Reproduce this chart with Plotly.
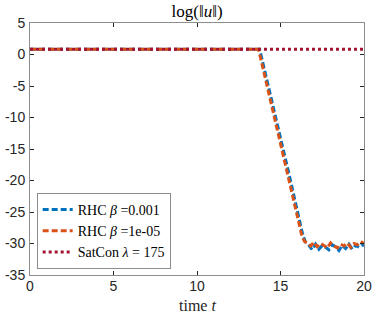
import plotly.graph_objects as go

# ---- data ----
t_blue = [0, 13.75, 13.95, 14.2, 14.35, 14.6, 14.85, 15.1, 15.35, 15.6, 15.85, 16.1, 16.35, 16.5,
          16.7, 16.9, 17.1, 17.3, 17.5, 17.7, 17.9, 18.1, 18.3, 18.5, 18.7, 18.9, 19.1, 19.3, 19.5, 19.7, 19.9, 20.0]
y_blue = [0.85, 0.85, -1.4, -4.2, -5.6, -8.6, -11.4, -14.0, -17.2, -20.0, -23.0, -26.0, -28.8, -29.8,
          -30.3, -31.0, -30.1, -30.9, -30.3, -30.6, -31.0, -30.2, -30.5, -31.1, -30.3, -30.8, -30.1, -30.9, -30.3, -30.6, -30.2, -30.4]

t_orange = [0, 13.68, 13.9, 14.1, 14.3, 14.55, 14.8, 15.05, 15.3, 15.55, 15.8, 16.05, 16.3, 16.45,
            16.6, 16.8, 17.0, 17.2, 17.4, 17.6, 17.8, 18.0, 18.2, 18.4, 18.6, 18.8, 19.0, 19.2, 19.4, 19.6, 19.8, 20.0]
y_orange = [0.85, 0.85, -1.6, -3.9, -6.3, -9.0, -11.9, -14.6, -17.6, -20.6, -23.6, -26.5, -29.0, -29.7,
            -29.9, -30.4, -29.8, -30.5, -30.0, -30.3, -30.7, -29.9, -30.4, -30.7, -30.1, -30.4, -29.9, -30.6, -30.0, -30.2, -29.7, -30.0]

t_sat = [0, 20]
y_sat = [0.85, 0.85]

names = ["RHC <i>β</i> =0.001", "RHC <i>β</i> =1e-05", "SatCon <i>λ</i> = 175"]
x_ticks = [0, 5, 10, 15, 20]
x_ticklabels = ["0", "5", "10", "15", "20"]
y_ticks = [5, 0, -5, -10, -15, -20, -25, -30, -35]
y_ticklabels = ["5", "0", "-5", "-10", "-15", "-20", "-25", "-30", "-35"]

serif = "Liberation Serif, Times New Roman, serif"
sans = "Liberation Sans, Arial, sans-serif"

fig = go.Figure()
fig.add_trace(go.Scatter(x=t_blue, y=y_blue, mode="lines", name=names[0],
                         line=dict(color="#0072BD", width=3, dash="6px,3px")))
fig.add_trace(go.Scatter(x=t_orange, y=y_orange, mode="lines", name=names[1],
                         line=dict(color="#D95319", width=3, dash="6px,3px")))
fig.add_trace(go.Scatter(x=t_sat, y=y_sat, mode="lines", name=names[2],
                         line=dict(color="#A2142F", width=3, dash="dot")))

axis_common = dict(showgrid=False, zeroline=False, showline=True, linecolor="#8c8c8c", linewidth=1,
                   mirror="ticks", ticks="inside", ticklen=4, tickcolor="#262626", automargin=False,
                   tickfont=dict(family=sans, size=14, color="#262626"))

fig.update_layout(
    width=374, height=318,
    margin=dict(l=30, r=10, t=23, b=43, autoexpand=False),
    paper_bgcolor="white", plot_bgcolor="white",
    title=dict(text="log(‖<i>u</i>‖)", x=0.527, xanchor="center", y=0.985, yanchor="top",
               font=dict(family=serif, size=17, color="#000")),
    xaxis=dict(range=[0, 20], tickvals=x_ticks, ticktext=x_ticklabels, ticklabelstandoff=-2,
               **axis_common),
    yaxis=dict(range=[-35, 5], tickvals=y_ticks, ticktext=y_ticklabels, ticklabelstandoff=1, **axis_common),
    annotations=[dict(text="time <i>t</i>", x=0.5, y=-0.122, xref="paper", yref="paper",
                      xanchor="center", yanchor="middle", showarrow=False,
                      font=dict(family=serif, size=16, color="#262626"))],
    legend=dict(x=0.02, y=0.024, xanchor="left", yanchor="bottom",
                bgcolor="white", bordercolor="#8c8c8c", borderwidth=1,
                font=dict(family=serif, size=14, color="#000"),
                itemwidth=30, tracegroupgap=0),
    showlegend=True,
)

fig.write_html("out.html", config={"displayModeBar": False},
               post_script="document.body.style.margin='0';")
